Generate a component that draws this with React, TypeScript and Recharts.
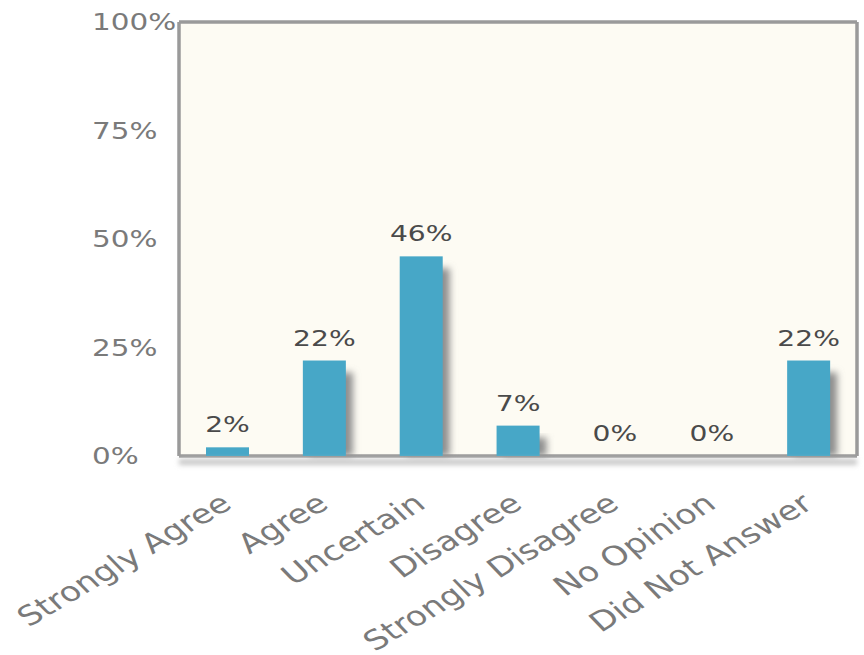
import React from "react";
import { BarChart, Bar, XAxis, YAxis, CartesianGrid } from "recharts";

const categories = [
  "Strongly Agree",
  "Agree",
  "Uncertain",
  "Disagree",
  "Strongly Disagree",
  "No Opinion",
  "Did Not Answer",
];
const percents = [2, 22, 46, 7, 0, 0, 22];
const yTicks = [0, 25, 50, 75, 100];

const data = categories.map((name, i) => ({ name, value: percents[i] }));

const FONT = "'DejaVu Sans', Verdana, sans-serif";
const STRETCH = 1.28;

function XTick(props: any) {
  const { x, y, payload } = props;
  return (
    <text
      transform={`translate(${x + 6},${y + 51}) scale(${STRETCH},1) rotate(-37)`}
      textAnchor="end"
      fontFamily={FONT}
      fontSize={27}
      fill="#7a7a7a"
    >
      {payload.value}
    </text>
  );
}

function YTick(props: any) {
  const { x, y, payload } = props;
  return (
    <text
      transform={`translate(${x - 87},${y}) scale(${STRETCH},1)`}
      textAnchor="start"
      dy="0.36em"
      fontFamily={FONT}
      fontSize={23}
      fill="#7a7a7a"
    >
      {payload.value}%
    </text>
  );
}

function ValueLabel(props: any) {
  const { x, y, width, value } = props;
  return (
    <text
      transform={`translate(${x + width / 2},${y - 15}) scale(${STRETCH},1)`}
      textAnchor="middle"
      fontFamily={FONT}
      fontSize={22}
      fill="#4a4a4a"
    >
      {value}%
    </text>
  );
}

function ShadowBar(props: any) {
  const { x, y, width, height, fill } = props;
  const drop = 12;
  return (
    <g>
      {height > drop && (
        <rect
          x={x + 7}
          y={y + drop}
          width={width}
          height={height - drop}
          fill="#8e8e8e"
          filter="url(#softShadow)"
        />
      )}
      <rect x={x} y={y} width={width} height={height} fill={fill} />
    </g>
  );
}

export default function App() {
  return (
    <div style={{ position: "absolute", left: 0, top: 0, background: "#fff" }}>
      <BarChart
        width={864}
        height={655}
        data={data}
        margin={{ top: 22, right: 7, left: 0, bottom: 0 }}
      >
        <defs>
          <filter id="softShadow" x="-50%" y="-20%" width="200%" height="140%">
            <feGaussianBlur stdDeviation="3.5" />
          </filter>
          <filter id="axisShadow" filterUnits="userSpaceOnUse" x="0" y="0" width="864" height="655">
            <feGaussianBlur stdDeviation="2.5" />
          </filter>
        </defs>
        <CartesianGrid
          fill="#fdfbf3"
          stroke="#9a9a9a"
          strokeWidth={3.5}
          horizontalCoordinatesGenerator={({ offset }: any) => [offset.top, offset.top + offset.height]}
          verticalCoordinatesGenerator={({ offset }: any) => [offset.left, offset.left + offset.width]}
        />
        <XAxis
          dataKey="name"
          interval={0}
          height={199}
          tickSize={0}
          tickMargin={0}
          axisLine={{ stroke: "#c8c8c8", strokeWidth: 6, filter: "url(#axisShadow)", transform: "translate(0,6)" }}
          tickLine={false}
          tick={<XTick />}
        />
        <YAxis
          width={179}
          domain={[0, 100]}
          ticks={yTicks}
          tickSize={0}
          tickMargin={0}
          axisLine={false}
          tickLine={false}
          tick={<YTick />}
        />
        <Bar
          dataKey="value"
          fill="#47a7c7"
          barSize={43}
          shape={<ShadowBar />}
          label={<ValueLabel />}
          isAnimationActive={false}
        />
      </BarChart>
    </div>
  );
}
